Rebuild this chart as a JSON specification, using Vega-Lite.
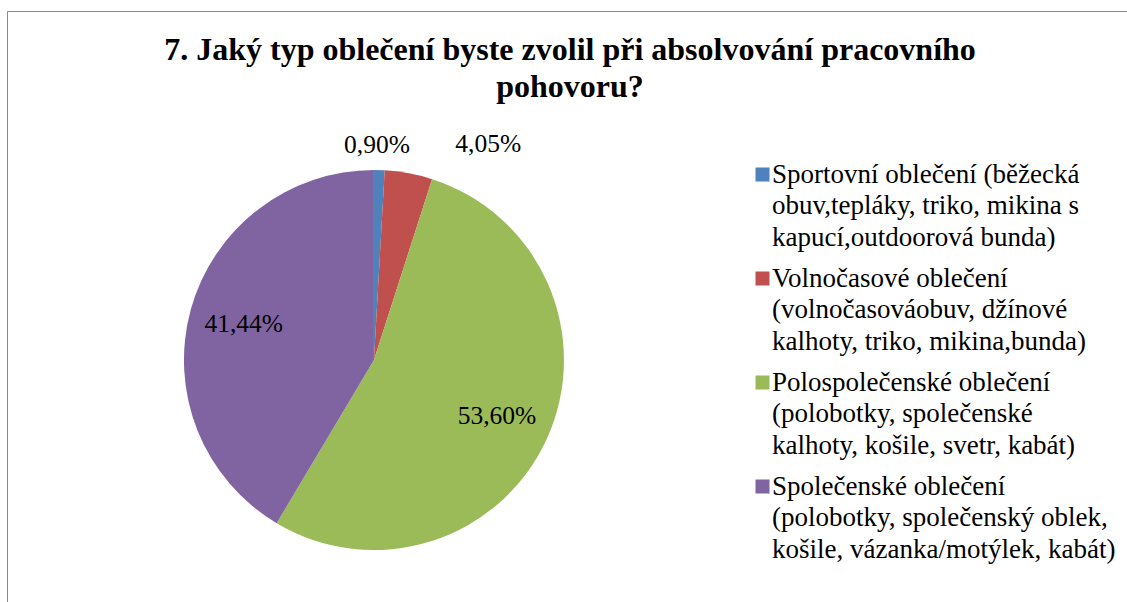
{
  "$schema": "https://vega.github.io/schema/vega-lite/v6.json",
  "width": 1126,
  "height": 600,
  "autosize": "none",
  "padding": {"left": 7, "top": 11, "right": 0, "bottom": 0},
  "background": "white",
  "config": {
    "view": {"stroke": "#898989", "strokeWidth": 1},
    "locale": {"number": {"decimal": ",", "thousands": " ", "grouping": [3], "currency": ["", " Kč"]}}
  },
  "title": {
    "text": ["7. Jaký typ oblečení byste zvolil při absolvování pracovního", "pohovoru?"],
    "font": "Liberation Serif",
    "fontSize": 32,
    "fontWeight": "bold",
    "color": "#000000",
    "anchor": "middle",
    "frame": "group",
    "orient": "top",
    "offset": 0,
    "baseline": "alphabetic",
    "lineHeight": 37,
    "dy": 118
  },
  "data": {
    "values": [
      {"cat": "Sportovní oblečení (běžecká|obuv,tepláky, triko, mikina s|kapucí,outdoorová bunda)", "share": 0.009, "ord": 1},
      {"cat": "Volnočasové oblečení|(volnočasováobuv, džínové|kalhoty, triko, mikina,bunda)", "share": 0.0405, "ord": 2},
      {"cat": "Polospolečenské oblečení|(polobotky, společenské|kalhoty, košile, svetr, kabát)", "share": 0.536, "ord": 3},
      {"cat": "Společenské oblečení|(polobotky, společenský oblek,|košile, vázanka/motýlek, kabát)", "share": 0.4144, "ord": 4}
    ]
  },
  "encoding": {
    "x": {"datum": 0.3259, "type": "quantitative", "scale": {"domain": [0, 1]}, "axis": null},
    "y": {"datum": 0.5817, "type": "quantitative", "scale": {"domain": [0, 1], "reverse": true}, "axis": null},
    "theta": {"field": "share", "type": "quantitative", "stack": true},
    "order": {"field": "ord", "type": "quantitative"}
  },
  "layer": [
    {
      "mark": {"type": "arc", "outerRadius": 190},
      "encoding": {
        "color": {
          "field": "cat",
          "type": "nominal",
          "scale": {
            "domain": [
              "Sportovní oblečení (běžecká|obuv,tepláky, triko, mikina s|kapucí,outdoorová bunda)",
              "Volnočasové oblečení|(volnočasováobuv, džínové|kalhoty, triko, mikina,bunda)",
              "Polospolečenské oblečení|(polobotky, společenské|kalhoty, košile, svetr, kabát)",
              "Společenské oblečení|(polobotky, společenský oblek,|košile, vázanka/motýlek, kabát)"
            ],
            "range": ["#4F81BD", "#C0504D", "#9BBB59", "#8064A2"]
          },
          "legend": {
            "orient": "none",
            "legendX": 742,
            "legendY": 150,
            "title": null,
            "padding": 0,
            "symbolType": "square",
            "symbolSize": 196,
            "symbolStrokeWidth": 0,
            "labelFont": "Liberation Serif",
            "labelFontSize": 27,
            "labelColor": "#000000",
            "labelLimit": 500,
            "labelOffset": -4,
            "rowPadding": 13,
            "labelBaseline": "alphabetic",
            "labelExpr": "split(datum.label, '|')",
            "encode": {"labels": {"update": {"dy": {"value": 8}, "lineHeight": {"value": 31.5}}}}
          }
        }
      }
    },
    {
      "mark": {"type": "text", "radius": 135, "font": "Liberation Serif", "fontSize": 25.5, "color": "#000000", "align": "center", "baseline": "middle"},
      "encoding": {
        "detail": {"field": "cat", "type": "nominal"},
        "text": {"condition": {"test": "datum.share > 0.1", "field": "share", "type": "quantitative", "format": ".2%"}, "value": ""}
      }
    },
    {
      "mark": {"type": "text", "radius": 215, "dx": -3, "font": "Liberation Serif", "fontSize": 25.5, "color": "#000000", "align": "center", "baseline": "middle"},
      "encoding": {
        "detail": {"field": "cat", "type": "nominal"},
        "text": {"condition": {"test": "datum.share < 0.02", "field": "share", "type": "quantitative", "format": ".2%"}, "value": ""}
      }
    },
    {
      "mark": {"type": "text", "radius": 215, "dx": 75, "dy": -5, "font": "Liberation Serif", "fontSize": 25.5, "color": "#000000", "align": "center", "baseline": "middle"},
      "encoding": {
        "detail": {"field": "cat", "type": "nominal"},
        "text": {"condition": {"test": "datum.share > 0.02 && datum.share < 0.1", "field": "share", "type": "quantitative", "format": ".2%"}, "value": ""}
      }
    }
  ]
}
